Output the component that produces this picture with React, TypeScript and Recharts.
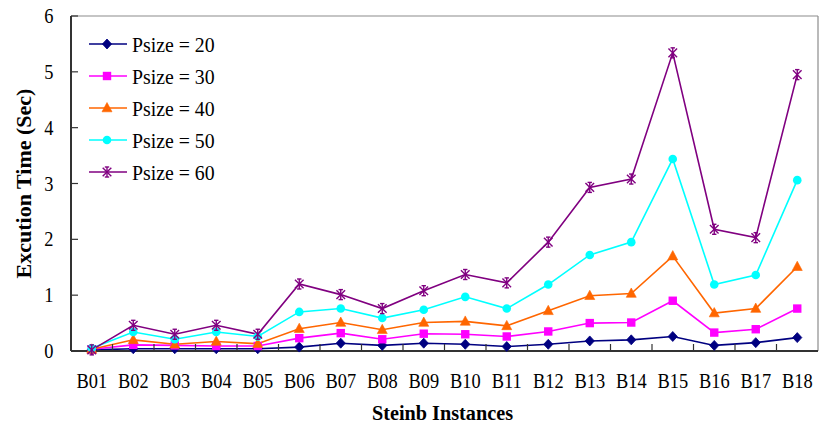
import React from 'react';
import { LineChart, Line, XAxis, YAxis, Legend, ReferenceLine } from 'recharts';

const instances = ['B01', 'B02', 'B03', 'B04', 'B05', 'B06', 'B07', 'B08', 'B09', 'B10', 'B11', 'B12', 'B13', 'B14', 'B15', 'B16', 'B17', 'B18'];
const psize20 = [0.02, 0.04, 0.04, 0.04, 0.04, 0.07, 0.14, 0.10, 0.14, 0.12, 0.08, 0.12, 0.18, 0.20, 0.26, 0.10, 0.15, 0.24];
const psize30 = [0.03, 0.11, 0.10, 0.09, 0.09, 0.23, 0.32, 0.21, 0.31, 0.30, 0.26, 0.35, 0.50, 0.51, 0.90, 0.33, 0.39, 0.76];
const psize40 = [0.03, 0.20, 0.12, 0.17, 0.13, 0.40, 0.51, 0.38, 0.51, 0.53, 0.45, 0.72, 0.99, 1.03, 1.70, 0.68, 0.76, 1.51];
const psize50 = [0.05, 0.34, 0.21, 0.34, 0.26, 0.70, 0.76, 0.59, 0.74, 0.97, 0.76, 1.19, 1.72, 1.95, 3.44, 1.19, 1.36, 3.06];
const psize60 = [0.02, 0.46, 0.30, 0.46, 0.30, 1.20, 1.01, 0.76, 1.08, 1.37, 1.22, 1.95, 2.93, 3.08, 5.34, 2.18, 2.03, 4.95];
const yTicks = [0, 1, 2, 3, 4, 5, 6];

const series = [
  { key: 'p20', name: 'Psize = 20', values: psize20, color: '#000080', shape: 'diamond' },
  { key: 'p30', name: 'Psize = 30', values: psize30, color: '#FF00FF', shape: 'square' },
  { key: 'p40', name: 'Psize = 40', values: psize40, color: '#FF6600', shape: 'triangle' },
  { key: 'p50', name: 'Psize = 50', values: psize50, color: '#00FFFF', shape: 'circle' },
  { key: 'p60', name: 'Psize = 60', values: psize60, color: '#800080', shape: 'star' },
];

const data = instances.map((name, i) => {
  const row: any = { name };
  series.forEach((s) => { row[s.key] = s.values[i]; });
  return row;
});

const FONT = '"Liberation Serif", "Times New Roman", serif';

function Marker({ shape, cx, cy, color }: { shape: string; cx: number; cy: number; color: string }) {
  if (cx == null || cy == null || isNaN(cx) || isNaN(cy)) return null;
  switch (shape) {
    case 'diamond':
      return <polygon points={`${cx},${cy - 5} ${cx + 4.6},${cy} ${cx},${cy + 5} ${cx - 4.6},${cy}`} fill={color} stroke={color} strokeWidth={0.8} />;
    case 'square':
      return <rect x={cx - 4.2} y={cy - 4.2} width={8.4} height={8.4} fill={color} />;
    case 'triangle':
      return <polygon points={`${cx},${cy - 5.5} ${cx + 5},${cy + 3.8} ${cx - 5},${cy + 3.8}`} fill={color} stroke={color} strokeWidth={0.6} />;
    case 'circle':
      return <circle cx={cx} cy={cy} r={4.3} fill={color} />;
    case 'star':
      return (
        <g stroke={color} strokeWidth={1.4} fill="none">
          <line x1={cx - 4.3} y1={cy - 4.3} x2={cx + 4.3} y2={cy + 4.3} />
          <line x1={cx - 4.3} y1={cy + 4.3} x2={cx + 4.3} y2={cy - 4.3} />
          <line x1={cx} y1={cy - 5} x2={cx} y2={cy + 5} />
          <line x1={cx - 2.2} y1={cy - 5} x2={cx + 2.2} y2={cy - 5} />
          <line x1={cx - 2.2} y1={cy + 5} x2={cx + 2.2} y2={cy + 5} />
        </g>
      );
    default:
      return null;
  }
}

const XTick = (props: any) => {
  const { x, y, payload, index } = props;
  const off = payload && typeof payload.offset === 'number' ? payload.offset : 0;
  const idx = typeof index === 'number' ? index : payload.index;
  const bx = x - off;
  return (
    <g>
      {idx > 0 && off > 0 ? <line x1={bx} y1={y} x2={bx} y2={y - 7} stroke="#333" strokeWidth={1.2} /> : null}
      <g transform={`translate(${x},${y + 37}) scale(0.92,1)`}>
        <text x={0} y={0} textAnchor="middle" fontFamily={FONT} fontSize={20} fill="#000">{payload.value}</text>
      </g>
    </g>
  );
};

const YTick = (props: any) => {
  const { x, y, payload } = props;
  return (
    <g transform={`translate(${x - 24.5},${y + 7}) scale(0.92,1)`}>
      <text x={0} y={0} textAnchor="end" fontFamily={FONT} fontSize={20} fill="#000">{payload.value}</text>
    </g>
  );
};

const LegendContent = () => (
  <svg width={150} height={162} style={{ display: 'block' }}>
    {series.map((s, i) => {
      const cy = 16 + i * 32;
      return (
        <g key={s.key}>
          <line x1={0} y1={cy} x2={38} y2={cy} stroke={s.color} strokeWidth={1.6} />
          <Marker shape={s.shape} cx={18} cy={cy} color={s.color} />
          <g transform={`translate(43,${cy + 7.5}) scale(0.9,1)`}>
            <text x={0} y={0} fontFamily={FONT} fontSize={22} fill="#000">{s.name}</text>
          </g>
        </g>
      );
    })}
  </svg>
);

const YTitle = (props: any) => {
  const vb = props.viewBox || { x: 11, y: 16, width: 60, height: 335 };
  const cx = vb.x + 12;
  const cy = vb.y + vb.height / 2;
  return (
    <text x={cx} y={cy} transform={`rotate(-90,${cx},${cy})`} textAnchor="middle" dominantBaseline="central" fontFamily={FONT} fontWeight="bold" fontSize={22} fill="#000">
      Excution Time (Sec)
    </text>
  );
};

const XTitle = (props: any) => {
  const vb = props.viewBox || { x: 71, y: 351, width: 747, height: 40 };
  const cx = vb.x + vb.width / 2 - 2;
  const by = vb.y + 69;
  return (
    <g transform={`translate(${cx},${by}) scale(0.92,1)`}>
      <text x={0} y={0} textAnchor="middle" fontFamily={FONT} fontWeight="bold" fontSize={22} fill="#000">Steinb Instances</text>
    </g>
  );
};

export default function App() {
  return (
    <div style={{ position: 'absolute', left: 0, top: 0, width: 819, height: 426, background: '#fff' }}>
      <LineChart width={819} height={426} data={data} margin={{ top: 16, right: 1, bottom: 35, left: 11 }}>
        <XAxis
          dataKey="name"
          scale="band"
          height={40}
          interval={0}
          tickSize={0}
          tickMargin={0}
          tickLine={false}
          axisLine={{ stroke: '#333', strokeWidth: 2 }}
          tick={<XTick />}
          label={<XTitle />}
        />
        <YAxis
          width={60}
          domain={[0, 6]}
          ticks={yTicks}
          interval={0}
          tickSize={-7}
          tickMargin={0}
          axisLine={{ stroke: '#333', strokeWidth: 2 }}
          tickLine={{ stroke: '#333', strokeWidth: 1.2 }}
          tick={<YTick />}
          label={<YTitle />}
        />
        <ReferenceLine y={6} stroke="#8c8c8c" strokeWidth={1.2} />
        <ReferenceLine x="B18" position="end" stroke="#8c8c8c" strokeWidth={1.2} />
        <Legend
          layout="vertical"
          align="center"
          verticalAlign="middle"
          content={<LegendContent />}
          wrapperStyle={{ position: 'absolute', left: 89, top: 28, width: 150, height: 162 }}
        />
        {series.map((s) => (
          <Line
            key={s.key}
            dataKey={s.key}
            name={s.name}
            stroke={s.color}
            strokeWidth={1.6}
            isAnimationActive={false}
            dot={(p: any) => <Marker key={`${s.key}-${p.index}`} shape={s.shape} cx={p.cx} cy={p.cy} color={s.color} />}
            activeDot={false}
          />
        ))}
      </LineChart>
    </div>
  );
}
